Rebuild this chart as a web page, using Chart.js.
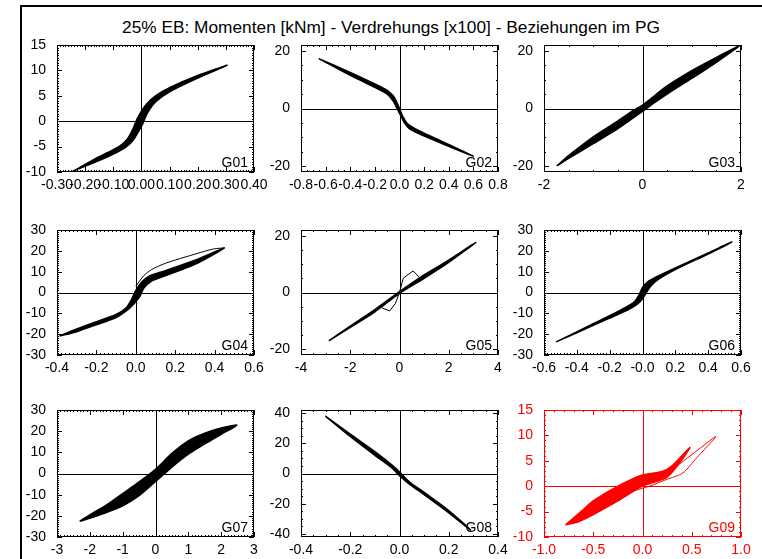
<!DOCTYPE html>
<html>
<head>
<meta charset="utf-8">
<script src="https://cdn.jsdelivr.net/npm/chart.js@4.4.0/dist/chart.umd.min.js"></script>
<style>
body { margin: 0; background: #fff; width: 762px; height: 559px; overflow: hidden; position: relative; font-family: "Liberation Sans", Arial, sans-serif; }
#frame { position: absolute; left: 20px; top: 5px; width: 800px; height: 600px; border-left: 2px solid #000; border-top: 2px solid #000; }
#title { position: absolute; left: 0; width: 782px; top: 17px; text-align: center; font-size: 17.3px; color: #000; }
canvas { position: absolute; }
</style>
</head>
<body>
<div id="frame"></div>
<div id="title">25% EB: Momenten [kNm] - Verdrehungs [x100] - Beziehungen im PG</div>
<script>
// hysteresis loops: [rotation x100, moment kNm]
const g01Up = [[-0.245,-9.9],[-0.15,-7.0],[-0.08,-5.0],[-0.05,-3.5],[-0.03,-1.5],[-0.015,0.5],[0.0,2.0],[0.02,3.5],[0.05,5.0],[0.1,6.6],[0.2,9.0],[0.305,11.0]];
const g01Down = [[0.305,11.0],[0.2,8.5],[0.1,5.8],[0.05,3.8],[0.02,1.5],[0.005,-0.5],[-0.01,-2.0],[-0.03,-3.8],[-0.06,-5.3],[-0.12,-7.0],[-0.245,-9.9]];

const g02Up = [[-0.655,17.3],[-0.4,12.5],[-0.2,8.5],[-0.1,6.3],[-0.05,4.3],[-0.02,2.0],[0.0,0.0],[0.03,-3.0],[0.07,-5.5],[0.15,-7.5],[0.35,-11.5],[0.6,-16.5]];
const g02Down = [[0.6,-16.5],[0.35,-12.2],[0.15,-8.6],[0.08,-7.0],[0.04,-5.0],[0.01,-2.5],[-0.02,0.0],[-0.05,2.5],[-0.1,5.0],[-0.2,7.3],[-0.4,11.5],[-0.655,17.3]];

const g03Up = [[-1.74,-19.9],[-1.5,-16.3],[-1.0,-9.8],[-0.5,-4.3],[-0.2,-0.8],[0.0,1.2],[0.5,7.8],[1.0,13.1],[1.5,17.7],[1.97,21.7]];
const g03Down = [[1.97,21.7],[1.5,16.0],[1.0,10.4],[0.5,5.0],[0.2,1.5],[0.0,-1.0],[-0.5,-7.0],[-1.0,-12.2],[-1.5,-17.3],[-1.74,-19.9]];

const g04Up = [[-0.387,-20.9],[-0.3,-17.5],[-0.2,-14.0],[-0.1,-10.5],[-0.05,-7.5],[-0.02,-3.0],[0.0,1.0],[0.03,5.0],[0.07,8.0],[0.15,10.5],[0.3,15.5],[0.45,21.4]];
const g04Down = [[0.45,21.4],[0.3,13.5],[0.15,8.0],[0.08,5.5],[0.04,2.0],[0.02,-2.0],[-0.01,-5.5],[-0.05,-9.0],[-0.1,-12.0],[-0.2,-15.5],[-0.3,-18.8],[-0.387,-20.9]];
const g04Outer = [[0.0,3.0],[0.04,8.0],[0.08,11.0],[0.15,14.0],[0.25,17.0],[0.35,19.8],[0.4,21.0],[0.45,21.4]];

const g05Up = [[-2.87,-17.0],[-2.0,-11.8],[-1.0,-6.0],[0.0,0.3],[1.0,6.2],[2.0,11.4],[3.1,17.6]];
const g05Down = [[3.1,17.6],[2.0,10.6],[1.0,5.0],[0.0,-0.3],[-1.0,-6.8],[-2.0,-12.3],[-2.87,-17.0]];
const g05Spike = [[0.8,5.4],[0.55,7.6],[0.15,5.0],[0.0,0.0],[-0.17,-3.9],[-0.4,-6.5],[-0.72,-5.4]];

const g06Up = [[-0.526,-23.7],[-0.3,-15.0],[-0.1,-7.0],[-0.05,-4.5],[-0.02,-1.0],[0.0,2.5],[0.03,5.0],[0.08,7.3],[0.2,11.8],[0.4,19.0],[0.545,24.3]];
const g06Down = [[0.545,24.3],[0.4,18.5],[0.2,11.0],[0.1,6.5],[0.05,3.0],[0.02,-0.5],[0.0,-3.0],[-0.03,-5.5],[-0.08,-8.0],[-0.2,-12.3],[-0.4,-19.3],[-0.526,-23.7]];

const g07Up = [[-2.31,-22.6],[-2.0,-19.5],[-1.5,-15.0],[-1.0,-9.5],[-0.5,-4.0],[0.0,2.0],[0.5,9.5],[1.0,15.4],[1.5,19.0],[2.0,21.5],[2.48,22.8]];
const g07Down = [[2.48,22.2],[2.0,18.5],[1.5,14.0],[1.0,9.1],[0.5,3.0],[0.0,-3.8],[-0.5,-10.5],[-1.0,-15.3],[-1.5,-18.5],[-2.0,-21.2],[-2.31,-22.6]];
const g07Gap = [[0.8,13.5],[1.3,16.3],[1.8,19.2],[2.3,21.6]];

const g08Up = [[-0.301,38],[-0.2,26],[-0.1,14.5],[-0.03,5.5],[0.0,1.0],[0.04,-5.5],[0.1,-12.5],[0.2,-24.5],[0.289,-37.4]];
const g08Down = [[0.289,-37.4],[0.2,-26],[0.1,-14],[0.04,-7.0],[0.0,-1.5],[-0.03,3.5],[-0.1,12],[-0.2,24.5],[-0.301,38]];

const g09Up = [[-0.78,-7.6],[-0.6,-4.6],[-0.5,-2.9],[-0.25,0.0],[0.0,2.2],[0.2,2.9],[0.3,4.0],[0.48,7.6]];
const g09Down = [[0.48,7.6],[0.4,5.2],[0.25,1.8],[0.0,0.0],[-0.25,-2.9],[-0.5,-5.6],[-0.65,-7.0],[-0.78,-7.6]];
const g09Outer = [[-0.78,-7.6],[-0.6,-5.0],[-0.4,-2.0],[-0.2,0.3],[0.0,1.5],[0.2,2.3],[0.3,3.3],[0.5,6.2],[0.746,9.8],[0.55,5.6],[0.41,2.6],[0.24,1.3],[0.07,0.0],[-0.16,-1.3],[-0.35,-2.5],[-0.56,-4.5],[-0.78,-7.6]];

// axis ranges and tick labels
const xRanges = [[-0.3,0.4],[-0.8,0.8],[-2,2],[-0.4,0.6],[-4,4],[-0.6,0.6],[-3,3],[-0.4,0.4],[-1,1]];
const yRanges = [[-10,15],[-22,22],[-22,22],[-30,30],[-22,22],[-30,30],[-30,30],[-42,42],[-10,15]];
const xTickVals = [
  [-0.3,-0.2,-0.1,0,0.1,0.2,0.3,0.4],
  [-0.8,-0.6,-0.4,-0.2,0,0.2,0.4,0.6,0.8],
  [-2,0,2],
  [-0.4,-0.2,0,0.2,0.4,0.6],
  [-4,-2,0,2,4],
  [-0.6,-0.4,-0.2,0,0.2,0.4,0.6],
  [-3,-2,-1,0,1,2,3],
  [-0.4,-0.2,0,0.2,0.4],
  [-1,-0.5,0,0.5,1]
];
const xTickLabels = [
  ['-0.30','-0.20','-0.10','0.00','0.10','0.20','0.30','0.40'],
  ['-0.8','-0.6','-0.4','-0.2','0.0','0.2','0.4','0.6','0.8'],
  ['-2','0','2'],
  ['-0.4','-0.2','0.0','0.2','0.4','0.6'],
  ['-4','-2','0','2','4'],
  ['-0.6','-0.4','-0.2','-0.0','0.2','0.4','0.6'],
  ['-3','-2','-1','0','1','2','3'],
  ['-0.4','-0.2','0.0','0.2','0.4'],
  ['-1.0','-0.5','0.0','0.5','1.0']
];
const yTickVals = [
  [-10,-5,0,5,10,15],
  [-20,0,20],
  [-20,0,20],
  [-30,-20,-10,0,10,20,30],
  [-20,0,20],
  [-30,-20,-10,0,10,20,30],
  [-30,-20,-10,0,10,20,30],
  [-40,-20,0,20,40],
  [-10,-5,0,5,10,15]
];
const xMinor = [0.01,0.05,0.5,0.02,0.5,0.02,0.1,0.05,0.1];
const yMinor = [0.5,5,5,1,5,1,1,5,1];
const names = ['G01','G02','G03','G04','G05','G06','G07','G08','G09'];

const panels = [
  { band: [g01Up, g01Down], lines: [] },
  { band: [g02Up, g02Down], lines: [] },
  { band: [g03Up, g03Down], lines: [] },
  { band: [g04Up, g04Down], lines: [g04Outer] },
  { band: [g05Up, g05Down], lines: [g05Spike] },
  { band: [g06Up, g06Down], lines: [] },
  { band: [g07Up, g07Down], lines: [], gaps: [g07Gap] },
  { band: [g08Up, g08Down], lines: [] },
  { band: [g09Up, g09Down], lines: [g09Outer] }
];

// layout of the 3x3 grid (plot area boxes)
const colLeft = [57, 301, 544];
const rowTop = [45, 230, 410];
const rowH = [127, 125, 127];
const plotW = 197;
const axisW = 50, axisH = 30, padTop = 12, padRight = 30;

Chart.defaults.font.family = '"Liberation Sans", Arial, sans-serif';
Chart.defaults.font.size = 14;

const frame = {
  id: 'frame',
  beforeDatasetsDraw(chart, args, o) {
    const { ctx, chartArea: a, scales: { x, y } } = chart;
    const x0 = Math.round(x.getPixelForValue(0)) + 0.5;
    const y0 = Math.round(y.getPixelForValue(0)) + 0.5;
    ctx.save();
    ctx.strokeStyle = o.color;
    ctx.lineWidth = 1;
    ctx.beginPath();
    ctx.moveTo(x0, a.top); ctx.lineTo(x0, a.bottom);
    ctx.moveTo(a.left, y0); ctx.lineTo(a.right, y0);
    ctx.stroke();
    ctx.restore();
  },
  afterDatasetsDraw(chart, args, o) {
    const { ctx, chartArea: a, scales: { x, y } } = chart;
    ctx.save();
    ctx.strokeStyle = o.color;
    ctx.lineWidth = 1;
    ctx.beginPath();
    const tickX = (v, len) => {
      const px = Math.round(x.getPixelForValue(v)) + 0.5;
      ctx.moveTo(px, a.bottom); ctx.lineTo(px, a.bottom - len);
      ctx.moveTo(px, a.top); ctx.lineTo(px, a.top + len);
    };
    const tickY = (v, len) => {
      const py = Math.round(y.getPixelForValue(v)) + 0.5;
      ctx.moveTo(a.left, py); ctx.lineTo(a.left + len, py);
      ctx.moveTo(a.right, py); ctx.lineTo(a.right - len, py);
    };
    for (let i = Math.ceil(x.min / o.xMinor - 1e-6); i * o.xMinor <= x.max + 1e-9; i++) tickX(i * o.xMinor, 2);
    for (let i = Math.ceil(y.min / o.yMinor - 1e-6); i * o.yMinor <= y.max + 1e-9; i++) tickY(i * o.yMinor, 2);
    x.ticks.forEach(t => tickX(t.value, 5));
    y.ticks.forEach(t => tickY(t.value, 5));
    ctx.stroke();
    ctx.strokeRect(a.left + 0.5, a.top + 0.5, a.width - 1, a.height - 1);
    ctx.fillStyle = o.color;
    ctx.font = '14px "Liberation Sans", Arial, sans-serif';
    ctx.textAlign = 'right';
    ctx.textBaseline = 'alphabetic';
    ctx.fillText(o.name, a.right - 6, a.bottom - 5);
    ctx.restore();
  }
};

const toXY = arr => arr.map(p => ({ x: p[0], y: p[1] }));

panels.forEach((p, i) => {
  const col = i % 3, row = Math.floor(i / 3);
  const color = i === 8 ? '#ff0000' : '#000000';
  const canvas = document.createElement('canvas');
  const w = plotW + axisW + padRight, h = rowH[row] + padTop + axisH;
  canvas.width = w; canvas.height = h;
  canvas.style.left = (colLeft[col] - axisW) + 'px';
  canvas.style.top = (rowTop[row] - padTop) + 'px';
  canvas.style.width = w + 'px'; canvas.style.height = h + 'px';
  document.body.appendChild(canvas);

  const datasets = [];
  datasets.push({
    data: toXY(p.band[0].concat(p.band[1].slice(1))),
    showLine: true, pointRadius: 0, borderColor: color, backgroundColor: color,
    borderWidth: 1.5, tension: 0.25, fill: 'shape'
  });
  p.lines.forEach(l => datasets.push({
    data: toXY(l), showLine: true, pointRadius: 0, borderColor: color,
    borderWidth: 1, tension: i === 4 ? 0 : 0.25, fill: false
  }));
  (p.gaps || []).forEach(l => datasets.push({
    data: toXY(l), showLine: true, pointRadius: 0, borderColor: '#ffffff',
    borderWidth: 1, tension: 0.25, fill: false
  }));

  new Chart(canvas, {
    type: 'scatter',
    data: { datasets },
    options: {
      responsive: false,
      animation: false,
      devicePixelRatio: 1,
      layout: { padding: { left: 0, top: padTop, right: padRight, bottom: 0 } },
      plugins: {
        legend: { display: false },
        tooltip: { enabled: false },
        frame: { color, name: names[i], xMinor: xMinor[i], yMinor: yMinor[i] }
      },
      scales: {
        x: {
          type: 'linear', min: xRanges[i][0], max: xRanges[i][1],
          grid: { display: false }, border: { display: false },
          afterBuildTicks: s => { s.ticks = xTickVals[i].map(v => ({ value: v })); },
          afterFit: s => { s.height = axisH; },
          ticks: { color, autoSkip: false, maxRotation: 0, padding: -3,
            callback: (v, k) => xTickLabels[i][k] }
        },
        y: {
          type: 'linear', min: yRanges[i][0], max: yRanges[i][1],
          grid: { display: false }, border: { display: false },
          afterBuildTicks: s => { s.ticks = yTickVals[i].map(v => ({ value: v })); },
          afterFit: s => { s.width = axisW; },
          ticks: { color, autoSkip: false, padding: 3, callback: v => String(v) }
        }
      }
    },
    plugins: [frame]
  });
});
</script>
</body>
</html>
